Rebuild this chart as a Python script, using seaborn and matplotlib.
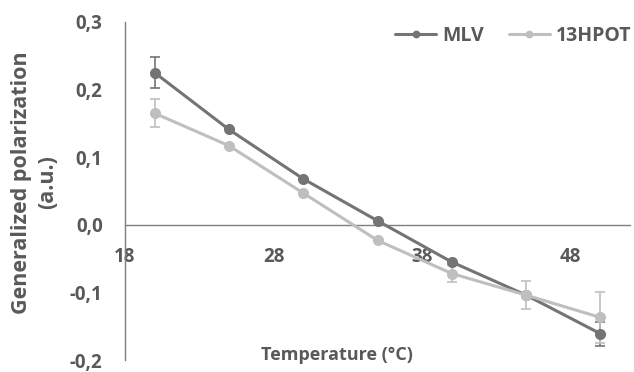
import matplotlib.pyplot as plt
import seaborn as sns
from matplotlib.ticker import FuncFormatter

temperature = [20, 25, 30, 35, 40, 45, 50]
mlv = [0.225, 0.141, 0.068, 0.006, -0.055, -0.104, -0.161]
mlv_err = [0.023, 0.0, 0.0, 0.0, 0.0, 0.0, 0.018]
hpot = [0.165, 0.117, 0.047, -0.023, -0.072, -0.104, -0.137]
hpot_err = [0.021, 0.0, 0.0, 0.0, 0.013, 0.021, 0.038]
series = ['MLV', '13HPOT']
colors = ['#747474', '#bfbfbf']
x_ticks = [18, 28, 38, 48]
y_ticks = [-0.2, -0.1, 0.0, 0.1, 0.2, 0.3]

sns.set_theme(style="white")
plt.rcParams['font.family'] = ['Open Sans', 'DejaVu Sans']
text_color = '#595959'

fig = plt.figure(figsize=(6.34, 3.72), dpi=100)
ax = fig.add_axes([0.197, 0.032, 0.797, 0.909])

for name, y, err, c in [(series[0], mlv, mlv_err, colors[0]),
                        (series[1], hpot, hpot_err, colors[1])]:
    ax.errorbar(temperature, y, yerr=err, fmt='none', ecolor=c, elinewidth=1.2,
                capsize=3.5, capthick=1.2, zorder=2)
    sns.lineplot(x=temperature, y=y, ax=ax, color=c, marker='o', markersize=8,
                 markeredgewidth=0, linewidth=2.2, label=name, zorder=3)

ax.set_xlim(18, 52)
ax.set_ylim(-0.2, 0.3)
ax.set_xticks(x_ticks)
ax.set_yticks(y_ticks)
fmt = FuncFormatter(lambda v, p: f"{v:.1f}".replace('.', ','))
ax.yaxis.set_major_formatter(fmt)

for s in ['top', 'right']:
    ax.spines[s].set_visible(False)
ax.spines['bottom'].set_position(('data', 0))
for s in ['left', 'bottom']:
    ax.spines[s].set_color('#7f7f7f')
    ax.spines[s].set_linewidth(1.0)

ax.tick_params(axis='x', direction='in', length=5, width=1, color='#7f7f7f',
               pad=16, labelsize=13.5, labelcolor=text_color)
ax.tick_params(axis='y', direction='in', length=5, width=1, color='#7f7f7f',
               pad=16, labelsize=13.5, labelcolor=text_color)
for lab in ax.get_xticklabels() + ax.get_yticklabels():
    lab.set_fontweight('bold')

ax.set_xlabel('')
ax.set_ylabel('')
fig.text(0.531, 0.046, 'Temperature (°C)', ha='center', va='center',
         fontsize=13, fontweight='bold', color=text_color)
fig.text(0.054, 0.51, 'Generalized polarization\n(a.u.)', ha='center', va='center',
         rotation=90, fontsize=15.5, fontweight='bold', color=text_color,
         linespacing=1.3)

leg = ax.legend(loc='upper right', bbox_to_anchor=(631 / 634, 1 - 26 / 372),
                bbox_transform=fig.transFigure, borderaxespad=0, borderpad=0,
                ncol=2, frameon=False, handlelength=2.1, columnspacing=1.3,
                handletextpad=0.3, markerscale=0.7,
                prop={'weight': 'bold', 'size': 14})
for t in leg.get_texts():
    t.set_color(text_color)

fig.savefig('out.png', dpi=100)
